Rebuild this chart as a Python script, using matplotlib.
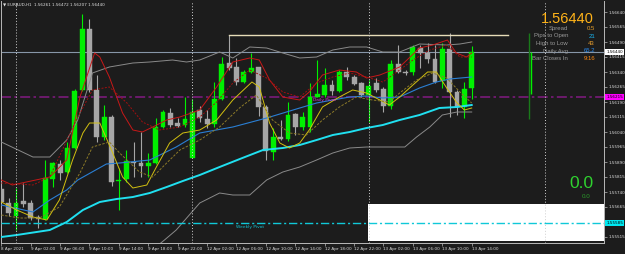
import matplotlib
matplotlib.use("Agg")
import matplotlib.pyplot as plt
import matplotlib.transforms as mtransforms
from matplotlib.patches import Rectangle
import numpy as np

# EURAUD H1 bars, 8 Apr 2021 22:00 -> 13 Apr 14:00
opens = [1.55755, 1.55685, 1.55620, 1.55695, 1.55685, 1.55615, 1.55605, 1.55805, 1.55880, 1.55840,
         1.55960, 1.56250, 1.56555, 1.56250, 1.56015, 1.56115, 1.55795, 1.55805, 1.55890, 1.55885,
         1.55870, 1.55885, 1.56065, 1.56135, 1.56085, 1.56075, 1.55910, 1.56150, 1.56105, 1.56080,
         1.56205, 1.56385, 1.56365, 1.56290, 1.56340, 1.56365, 1.56165, 1.55940, 1.56015, 1.56005,
         1.56130, 1.56065, 1.56065, 1.56215, 1.56225, 1.56275, 1.56245, 1.56340, 1.56315, 1.56285,
         1.56225, 1.56285, 1.56255, 1.56170, 1.56380, 1.56340, 1.56340, 1.56460, 1.56435, 1.56405,
         1.56295, 1.56455, 1.56240, 1.56165, 1.56261]
highs = [1.55775, 1.55710, 1.55760, 1.55785, 1.55700, 1.55625, 1.55900, 1.55890, 1.55900, 1.55990,
         1.56255, 1.56630, 1.56605, 1.56325, 1.56175, 1.56125, 1.55860, 1.55950, 1.55990, 1.56040,
         1.55935, 1.56110, 1.56150, 1.56160, 1.56110, 1.56215, 1.56205, 1.56170, 1.56150, 1.56290,
         1.56415, 1.56525, 1.56410, 1.56350, 1.56435, 1.56365, 1.56175, 1.56060, 1.56100, 1.56190,
         1.56135, 1.56140, 1.56285, 1.56400, 1.56360, 1.56300, 1.56350, 1.56365, 1.56325, 1.56290,
         1.56300, 1.56310, 1.56265, 1.56400, 1.56475, 1.56350, 1.56475, 1.56475, 1.56485, 1.56475,
         1.56485, 1.56535, 1.56250, 1.56290, 1.56472]
lows = [1.55670, 1.55620, 1.55550, 1.55665, 1.55600, 1.55560, 1.55600, 1.55765, 1.55800, 1.55835,
        1.55955, 1.56245, 1.56240, 1.55990, 1.56000, 1.55770, 1.55650, 1.55790, 1.55815, 1.55815,
        1.55815, 1.55880, 1.56060, 1.56065, 1.56065, 1.56065, 1.55910, 1.56090, 1.56060, 1.56065,
        1.56200, 1.56350, 1.56275, 1.56285, 1.56335, 1.56120, 1.55900, 1.55900, 1.56000, 1.55995,
        1.56025, 1.56050, 1.56040, 1.56215, 1.56215, 1.56225, 1.56240, 1.56300, 1.56275, 1.56215,
        1.56090, 1.56240, 1.56140, 1.56155, 1.56335, 1.56325, 1.56325, 1.56360, 1.56385, 1.56285,
        1.56260, 1.56115, 1.56125, 1.56110, 1.56207]
closes = [1.55690, 1.55635, 1.55685, 1.55680, 1.55610, 1.55605, 1.55810, 1.55885, 1.55835, 1.55960,
          1.56245, 1.56555, 1.56250, 1.56015, 1.56115, 1.55790, 1.55800, 1.55895, 1.55885, 1.55870,
          1.55885, 1.56065, 1.56140, 1.56075, 1.56070, 1.56105, 1.56140, 1.56110, 1.56080, 1.56205,
          1.56380, 1.56360, 1.56290, 1.56340, 1.56360, 1.56165, 1.55945, 1.56015, 1.56005, 1.56125,
          1.56065, 1.56115, 1.56215, 1.56230, 1.56275, 1.56245, 1.56340, 1.56315, 1.56280, 1.56225,
          1.56270, 1.56250, 1.56170, 1.56380, 1.56340, 1.56335, 1.56465, 1.56435, 1.56405, 1.56290,
          1.56455, 1.56240, 1.56165, 1.56255, 1.56440]

time_labels = ["8 Apr 2021", "9 Apr 02:00", "9 Apr 06:00", "9 Apr 10:00", "9 Apr 14:00",
               "9 Apr 18:00", "9 Apr 22:00", "12 Apr 02:00", "12 Apr 06:00", "12 Apr 10:00",
               "12 Apr 14:00", "12 Apr 18:00", "12 Apr 22:00", "13 Apr 02:00", "13 Apr 06:00",
               "13 Apr 10:00", "13 Apr 14:00"]
time_label_bars = [0, 4, 8, 12, 16, 20, 24, 28, 32, 36, 40, 44, 48, 52, 56, 60, 64]
day_start_bars = [2, 26, 50, 74]

price_ticks = [1.56640, 1.56565, 1.56490, 1.56415, 1.56340, 1.56265, 1.56190, 1.56115,
               1.56040, 1.55965, 1.55890, 1.55815, 1.55740, 1.55665, 1.55590, 1.55515]

# indicator lines (bar position, price)
bb_upper_x = [0, 4.3, 6.6, 8.9, 10.4, 12.4, 14.7, 17.9, 20.2, 23.3, 25.2, 27.0, 29.7, 31.5,
              33.8, 36.1, 38.3, 40.6, 42.9, 45.1, 47.4, 49.7, 51.9, 54.2, 56.9, 60.6, 62.4, 64.0]
bb_upper = [1.55990, 1.55915, 1.55915, 1.56000, 1.56100, 1.56335, 1.56365, 1.56385, 1.56390,
            1.56400, 1.56390, 1.56400, 1.56440, 1.56410, 1.56465, 1.56460, 1.56435, 1.56410,
            1.56415, 1.56450, 1.56465, 1.56465, 1.56440, 1.56440, 1.56480, 1.56475, 1.56480, 1.56490]
bb_lower_x = [20.2, 22.2, 23.8, 27.0, 29.7, 31.5, 33.8, 36.1, 38.3, 40.6, 42.9, 45.1, 47.4,
              49.7, 51.9, 54.9, 56.5, 58.3, 60.0, 62.0, 64.0]
bb_lower = [1.55440, 1.55500, 1.55550, 1.55685, 1.55735, 1.55725, 1.55725, 1.55800, 1.55840,
            1.55865, 1.55900, 1.55935, 1.55960, 1.55965, 1.55965, 1.55965, 1.56015, 1.56065,
            1.56125, 1.56140, 1.56140]
bb_mid_x = [0, 4.3, 6.6, 8.9, 10.4, 14.3, 16.1, 20.2, 23.8, 27.0, 31.5, 36.1, 40.6, 42.9,
            45.1, 47.4, 49.7, 51.9, 54.2, 56.9, 59.2, 61.0, 64.0]
bb_mid = [1.55675, 1.55640, 1.55700, 1.55750, 1.55800, 1.55880, 1.55885, 1.55900, 1.55965,
          1.56035, 1.56065, 1.56110, 1.56160, 1.56185, 1.56200, 1.56215, 1.56220, 1.56210,
          1.56215, 1.56260, 1.56290, 1.56305, 1.56315]
slow_ma_x = [0, 2.1, 6.6, 8.9, 11.1, 13.4, 15.7, 17.9, 20.2, 22.5, 24.7, 27.0, 29.7, 32.8,
             35.6, 38.3, 40.6, 42.9, 45.1, 47.4, 49.7, 51.9, 54.2, 56.9, 59.6, 62.0, 64.0]
slow_ma = [1.55515, 1.55525, 1.55550, 1.55590, 1.55650, 1.55690, 1.55705, 1.55715, 1.55735,
           1.55765, 1.55795, 1.55825, 1.55865, 1.55910, 1.55950, 1.55960, 1.55975, 1.56000,
           1.56025, 1.56040, 1.56060, 1.56075, 1.56100, 1.56125, 1.56160, 1.56165, 1.56175]
red_fast_x = [0, 1.5, 6.6, 8.9, 10.7, 12.7, 13.4, 14.7, 16.5, 17.9, 19.2, 20.6, 22.5, 24.3,
              27.0, 29.3, 31.5, 33.8, 35.1, 36.5, 38.3, 40.6, 41.9, 43.7, 46.0, 48.3, 49.7,
              51.5, 54.2, 56.9, 58.7, 60.7, 61.9, 63.3, 64.0]
red_fast = [1.55800, 1.55775, 1.55815, 1.55900, 1.56215, 1.56435, 1.56415, 1.56315, 1.56135,
            1.56050, 1.56040, 1.56065, 1.56100, 1.56115, 1.56150, 1.56265, 1.56390, 1.56410,
            1.56400, 1.56300, 1.56215, 1.56200, 1.56240, 1.56325, 1.56350, 1.56340, 1.56310,
            1.56325, 1.56365, 1.56460, 1.56475, 1.56500, 1.56435, 1.56415, 1.56435]
red_slow_x = [0, 4.3, 6.6, 10.2, 12.4, 14.7, 17.1, 19.2, 21.5, 24.3, 27.0, 29.3, 31.5, 33.8,
              36.1, 38.3, 40.6, 42.9, 45.1, 47.4, 49.7, 51.9, 54.2, 56.0, 58.3, 60.6, 62.4, 64.0]
red_slow = [1.55785, 1.55775, 1.55815, 1.56100, 1.56250, 1.56265, 1.56185, 1.56090, 1.56050,
            1.56065, 1.56115, 1.56190, 1.56285, 1.56350, 1.56310, 1.56240, 1.56215, 1.56285,
            1.56315, 1.56335, 1.56315, 1.56290, 1.56350, 1.56400, 1.56450, 1.56475, 1.56415, 1.56415]
yel_fast_x = [0, 2.1, 4.3, 6.2, 7.9, 9.7, 11.1, 12.0, 13.4, 15.1, 16.5, 17.9, 19.8, 21.1,
              22.9, 24.7, 27.0, 29.3, 31.5, 34.1, 35.1, 36.5, 37.9, 39.2, 40.6, 41.9, 43.7,
              46.0, 47.8, 49.7, 51.5, 52.8, 54.2, 56.0, 58.0, 59.2, 60.6, 61.9, 63.0, 64.0]
yel_fast = [1.55690, 1.55650, 1.55615, 1.55600, 1.55700, 1.55900, 1.56035, 1.56085, 1.56085,
            1.55940, 1.55815, 1.55760, 1.55775, 1.55865, 1.55985, 1.56035, 1.56050, 1.56100,
            1.56200, 1.56290, 1.56265, 1.56085, 1.55985, 1.55960, 1.55985, 1.56050, 1.56165,
            1.56215, 1.56250, 1.56235, 1.56200, 1.56175, 1.56215, 1.56275, 1.56340, 1.56340,
            1.56260, 1.56190, 1.56150, 1.56160]
yel_slow_x = [0, 2.5, 5.2, 7.9, 10.7, 12.4, 14.7, 16.1, 18.8, 20.6, 22.5, 24.3, 27.0, 29.7,
              32.4, 34.7, 36.9, 39.2, 41.5, 43.7, 46.0, 48.3, 50.5, 52.8, 54.2, 56.5, 58.7,
              60.6, 62.4, 64.0]
yel_slow = [1.55625, 1.55610, 1.55610, 1.55665, 1.55835, 1.55965, 1.55990, 1.55935, 1.55840,
            1.55815, 1.55885, 1.55950, 1.56000, 1.56065, 1.56160, 1.56225, 1.56100, 1.56035,
            1.56025, 1.56100, 1.56165, 1.56215, 1.56200, 1.56190, 1.56235, 1.56300, 1.56335,
            1.56310, 1.56240, 1.56185]

bid = 1.56440
daily_pivot = 1.56215
weekly_pivot = 1.55585
resist_level = 1.56525
resist_bars = [31, 68.9]
day_open, day_high, day_low = 1.56230, 1.56535, 1.56105

info_labels = ["Spread", "Pips to Open", "High to Low", "Daily Avg", "Bar Closes In"]
info_values = ["0.5", "21", "43", "65.2", "9:16"]
info_colors = ["#e8a028", "#18b4f0", "#eaa030", "#2a8cf0", "#ff8a10"]

BG = "#1c1c1c"
W, H = 625, 254

fig = plt.figure(figsize=(W / 100, H / 100), dpi=100, facecolor=BG)
# plot area: x px 1..604, y px 1..243
ax = fig.add_axes([1 / W, 11 / H, 603 / W, 242 / H], facecolor=BG)
ax.set_xlim((1 - 1.3) / 7.35, (604 - 1.3) / 7.35)
ax.set_ylim(1.55485, 1.56695)

# candles
x = np.arange(len(opens))
o = np.array(opens)
c = np.array(closes)
up = c >= o
cols = np.where(up, "#00f000", "#a6a6a6")
ax.vlines(x, lows, highs, colors=cols, lw=0.8, zorder=2)
ax.bar(x, np.maximum(np.abs(c - o), 0.00002), bottom=np.minimum(o, c), width=0.66,
       color=cols, edgecolor=cols, lw=0.3, zorder=3)

# indicators
ax.plot(bb_upper_x, bb_upper, color="#8a8a8a", lw=0.7, zorder=4)
ax.plot(bb_lower_x, bb_lower, color="#8a8a8a", lw=0.7, zorder=4)
ax.plot(bb_mid_x, bb_mid, color="#2a7fd4", lw=0.8, zorder=4)
ax.plot(slow_ma_x, slow_ma, color="#20e0f0", lw=1.4, zorder=4)
ax.plot(red_fast_x, red_fast, color="#c81818", lw=0.7, zorder=4)
ax.plot(red_slow_x, red_slow, color="#a01010", lw=0.7, ls=(0, (2, 1.5)), zorder=4)
ax.plot(yel_fast_x, yel_fast, color="#d2c010", lw=0.7, zorder=4)
ax.plot(yel_slow_x, yel_slow, color="#8c7a28", lw=0.7, ls=(0, (2.5, 1.5)), zorder=4)

# horizontal levels
ax.axhline(bid, color="#8796a8", lw=0.8, zorder=1.5)
ax.axhline(daily_pivot, color="#7a1a7a", lw=1.2, ls=(0, (6, 2, 1.5, 2)), zorder=1.5)
ax.plot(resist_bars, [resist_level, resist_level], color="#e6dcb8", lw=1.0, zorder=4)
ax.text(42.4, 1.56200, "Daily Pivot", color="#d838d8", fontsize=3.2, va="center", zorder=5)
ax.text(32.0, 1.55565, "Weekly Pivot", color="#10c8d8", fontsize=3.2, va="center", zorder=5)

# day separators
for b in day_start_bars:
    ax.axvline(b, color="#cfcfcf", lw=0.7, ls=(0, (1, 2)), zorder=6)

# white overlay panel bottom right
ax.add_patch(Rectangle(((368 - 1) / 603, 2 / 242), 1 - (368 - 1) / 603, 37 / 242,
                       transform=ax.transAxes, facecolor="white", edgecolor="none", zorder=5))
ax.axhline(weekly_pivot, color="#10c8d8", lw=1.0, ls=(0, (6, 2, 1.5, 2)), zorder=6)

# daily range bars
ax.vlines(71.8, day_low, day_high, color="#1a7a1a", lw=1.0, zorder=4)
ax.vlines(72.1, day_open, bid, color="#00f000", lw=1.0, zorder=4)

# axes styling
ax.spines["top"].set_visible(False)
for s in ["left", "right", "bottom"]:
    ax.spines[s].set_color("#b8b8b8")
    ax.spines[s].set_linewidth(0.7)
ax.yaxis.tick_right()
ax.set_yticks(price_ticks)
# the tick under the weekly pivot box is hidden by it
ax.set_yticklabels(["" if abs(p - weekly_pivot) < 0.0001 else f"{p:.5f}" for p in price_ticks])
ax.set_xticks(time_label_bars)
ax.set_xticklabels(time_labels, ha="left")
ax.tick_params(axis="both", colors="#b8b8b8", labelcolor="#dcdcdc", labelsize=3.0,
               length=2, width=0.5, pad=1)

# price boxes on the right axis
bt = mtransforms.blended_transform_factory(ax.transAxes, ax.transData)
for val, fc in [(bid, "white"), (daily_pivot, "#ff00ff"), (weekly_pivot, "#00e8f0")]:
    ax.text(1.004, val, f"{val:.5f}", transform=bt, fontsize=3.0, color="black",
            va="center", ha="left", zorder=7,
            bbox=dict(boxstyle="square,pad=0.25", fc=fc, ec="none"))

# title
fig.text(3 / W, 1 - 5 / H, "\u25bc EURAUD,H1  1.56261 1.56472 1.56207 1.56440",
         color="#e0e0e0", fontsize=3.0, va="center", ha="left")

# info panel
fig.text(594 / W, 1 - 19 / H, f"{bid:.5f}", color="#ffb319", fontsize=10.5,
         family="Liberation Sans", ha="right", va="center")
row_y = [28.5, 36, 43.5, 51, 58.5]
for lab, v, col, yy in zip(info_labels, info_values, info_colors, row_y):
    fig.text(568 / W, 1 - yy / H, lab, color="#9a9a9a", fontsize=4.3,
             family="Liberation Sans", ha="right", va="center")
    fig.text(595 / W, 1 - yy / H, v, color=col, fontsize=4.3,
             family="Liberation Sans", ha="right", va="center")

fig.text(593 / W, 1 - 184 / H, "0.0", color="#2fd22f", fontsize=12.5,
         family="Liberation Sans", ha="right", va="center")
fig.text(590 / W, 1 - 197 / H, "0.0", color="#2a9a2a", fontsize=4.5,
         family="Liberation Sans", ha="right", va="center")

fig.savefig("out.png", dpi=100, facecolor=BG)
